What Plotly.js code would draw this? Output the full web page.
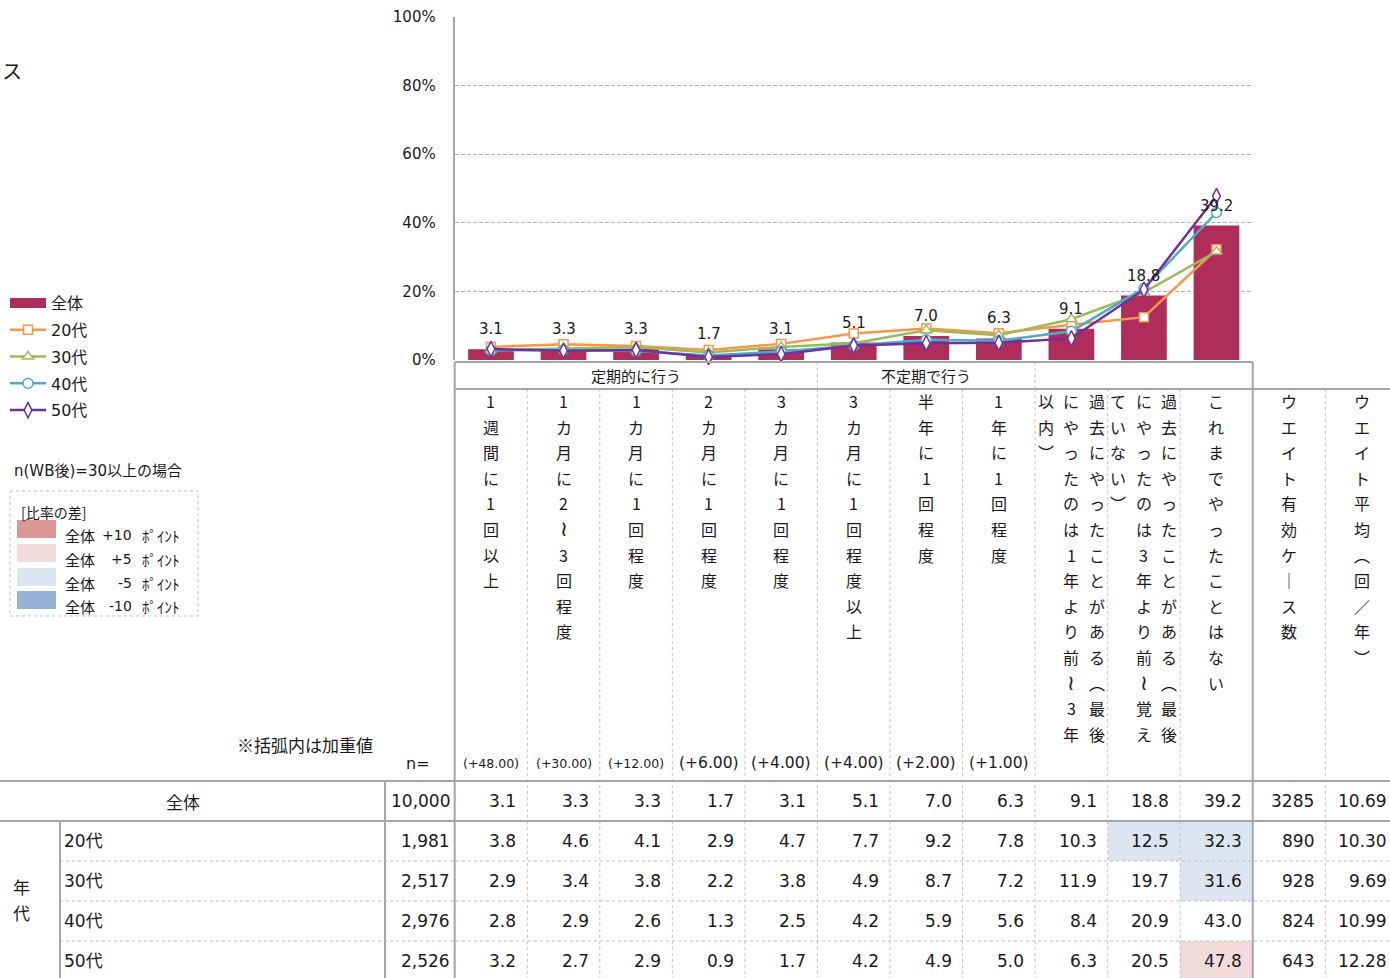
<!DOCTYPE html>
<html><head><meta charset="utf-8">
<script src="https://cdn.plot.ly/plotly-3.0.1.min.js"></script>
<style>html,body{margin:0;padding:0;background:#fff;overflow:hidden}#chart{width:1390px;height:978px}</style>
</head><body><div id="chart"></div>
<script>
// ---------- data ----------
const categories = ['1週間に1回以上','1カ月に2～3回程度','1カ月に1回程度','2カ月に1回程度','3カ月に1回程度','3カ月に1回程度以上','半年に1回程度','1年に1回程度','過去にやったことがある（最後にやったのは1年より前～3年以内）','過去にやったことがある（最後にやったのは3年より前～覚えていない）','これまでやったことはない'];
const extraHeaders = ['ウエイト有効ケース数','ウエイト平均（回／年）'];
const groupLabels = ['定期的に行う','不定期で行う',''];
const groupFirstCol = [0,5,8];
const groupLastCol = [4,7,10];
const weightLabels = ['(+48.00)','(+30.00)','(+12.00)','(+6.00)','(+4.00)','(+4.00)','(+2.00)','(+1.00)'];
const rowLabels = ['全体','20代','30代','40代','50代'];
const rowN = [10000,1981,2517,2976,2526];
const total = [3.1,3.3,3.3,1.7,3.1,5.1,7.0,6.3,9.1,18.8,39.2];
const age20 = [3.8,4.6,4.1,2.9,4.7,7.7,9.2,7.8,10.3,12.5,32.3];
const age30 = [2.9,3.4,3.8,2.2,3.8,4.9,8.7,7.2,11.9,19.7,31.6];
const age40 = [2.8,2.9,2.6,1.3,2.5,4.2,5.9,5.6,8.4,20.9,43.0];
const age50 = [3.2,2.7,2.9,0.9,1.7,4.2,4.9,5.0,6.3,20.5,47.8];
const weightedCases = [3285,890,928,824,643];
const weightedAvg = ['10.69','10.30','9.69','10.99','12.28'];
const yTicks = [0,20,40,60,80,100];
const shadeLabels = ['+10','+5','-5','-10'];
const shadeColors = ['#DA9694','#F2DCDB','#DCE6F1','#95B3D7'];

// ---------- styling / geometry ----------
const W = 1390, H = 978;
const X = p => p / W, Y = p => 1 - p / H;
const colW = 72.55, plotLeft = 454.7;
const plotRight = plotLeft + 11 * colW;
const tableTop = 781, rowH = 40;
const num = 'DejaVu Sans, Noto Sans CJK JP, sans-serif';
const cjk = 'Noto Sans CJK JP, sans-serif';
const ink = '#1a1a1a';
const barColor = '#AE2D5B';

const series = [
  {name:'20代', values:age20, color:'#F79646', symbol:'square', size:9},
  {name:'30代', values:age30, color:'#9BBB59', symbol:'triangle-up', size:10},
  {name:'40代', values:age40, color:'#4BACC6', symbol:'circle', size:10},
  {name:'50代', values:age50, color:'#7030A0', symbol:'diamond-tall', size:11}
];

const traces = [];
traces.push({type:'bar', x:categories, y:total, name:'全体', marker:{color:barColor}, width:0.63,
  showlegend:false, hoverinfo:'skip', legendgroup:'g0'});
traces.push({type:'scatter', mode:'lines', x:[null], y:[null], name:'全体',
  line:{color:barColor, width:10}, legendgroup:'g0', hoverinfo:'skip'});
series.forEach((s, k) => traces.push({type:'scatter', mode:'lines+markers', x:categories, y:s.values, name:s.name,
  legendgroup:'g' + (k + 1), line:{color:s.color, width:2.5},
  marker:{symbol:s.symbol, size:s.size, color:'#ffffff', line:{color:s.color, width:1.5}},
  hoverinfo:'skip', cliponaxis:false}));

// table shading (difference from 全体)
const rows = [total, age20, age30, age40, age50];
const shadeZ = rows.map((r, ri) => r.map((v, i) => {
  if (ri === 0) return null;
  const d = v - total[i];
  return d >= 10 ? 2 : d >= 5 ? 1 : d <= -10 ? -2 : d <= -5 ? -1 : null;
}));
traces.push({type:'heatmap', xaxis:'x2', yaxis:'y2', x:categories.map((c, i) => i), y:rowLabels.map((r, i) => i),
  z:shadeZ, zmin:-2, zmax:2, showscale:false, hoverinfo:'skip',
  colorscale:[[0,shadeColors[3]],[0.25,shadeColors[2]],[0.5,'#ffffff'],[0.75,shadeColors[1]],[1,shadeColors[0]]]});

const ann = [];
const A = o => ann.push(Object.assign({showarrow:false, xanchor:'center', yanchor:'middle', font:{family:num, size:16, color:ink}}, o));

// bar labels
total.forEach((v, i) => A({xref:'x', yref:'y', x:categories[i], y:v, yshift:20, text:v.toFixed(1), font:{family:num, size:15, color:ink}}));

// group header
groupLabels.forEach((g, k) => { if (g) A({xref:'x2', yref:'paper', x:(groupFirstCol[k] + groupLastCol[k]) / 2, y:Y(375), text:g, font:{family:cjk, size:15, color:ink}}); });

// vertical column headers
const vertMap = {'（':'︵','）':'︶','～':'≀','ー':'｜'};
const perCol = 14, charStep = 25.6, subStep = 25.5 / colW, headerTop = 401;
categories.concat(extraHeaders).forEach((label, ci) => {
  const chars = Array.from(label);
  const nSub = Math.ceil(chars.length / perCol);
  chars.forEach((ch, k) => {
    const sub = Math.floor(k / perCol), r = k % perCol;
    const off = ((nSub - 1) / 2 - sub) * subStep;
    const wave = ch === '～';
    A({xref:'x2', yref:'paper', x:ci + off, y:Y(headerTop + r * charStep), text:vertMap[ch] || ch,
       font:{family:wave ? num : cjk, size:wave ? 21 : 16, color:ink}});
  });
});
// weights
weightLabels.forEach((w, i) => A({xref:'x2', yref:'paper', x:i, y:Y(763), text:w,
  font:{family:num, size:w.length > 7 ? 12.5 : 15.5, color:ink}}));
A({xref:'paper', yref:'paper', x:X(418), y:Y(763), text:'n=', font:{family:num, size:16, color:ink}});
A({xref:'paper', yref:'paper', x:X(305), y:Y(744), text:'※括弧内は加重値', font:{family:cjk, size:17, color:ink}});

// table body
const pad = 9 / colW;
rows.forEach((r, ri) => {
  if (ri === 0) A({xref:'paper', yref:'y2', x:X(183), y:ri, text:rowLabels[ri], font:{family:cjk, size:17, color:ink}});
  else A({xref:'paper', yref:'y2', x:X(62), y:ri, xanchor:'left', text:rowLabels[ri], font:{family:num, size:17, color:ink}});
  A({xref:'paper', yref:'y2', x:X(452), y:ri, xanchor:'right', text:rowN[ri].toLocaleString('en-US'), font:{family:num, size:17, color:ink}});
  r.forEach((v, i) => A({xref:'x2', yref:'y2', x:i + 0.5 - pad, y:ri, xanchor:'right', text:v.toFixed(1), font:{family:num, size:17, color:ink}}));
  A({xref:'x2', yref:'y2', x:11.5 - pad, y:ri, xanchor:'right', text:String(weightedCases[ri]), font:{family:num, size:17, color:ink}});
  A({xref:'x2', yref:'y2', x:12.5 - pad, y:ri, xanchor:'right', text:weightedAvg[ri], font:{family:num, size:17, color:ink}});
});
Array.from('年代').forEach((ch, k) => A({xref:'paper', yref:'y2', x:X(21), y:2.45 + (k - 0.5) * 0.65, text:ch, font:{family:cjk, size:17, color:ink}}));

// notes at left
A({xref:'paper', yref:'paper', x:0, y:Y(71), xanchor:'left', text:'ス', font:{family:cjk, size:20, color:ink}});
A({xref:'paper', yref:'paper', x:X(12), y:Y(471), xanchor:'left', text:'n(WB後)=30以上の場合', font:{family:num, size:15, color:ink}});
A({xref:'paper', yref:'paper', x:X(19), y:Y(512), xanchor:'left', text:'[比率の差]', font:{family:cjk, size:14, color:ink}});
const shapes = [];
shapes.push({type:'rect', xref:'paper', yref:'paper', x0:X(10), x1:X(198), y0:Y(491), y1:Y(616), line:{color:'#BFBFBF', width:1, dash:'dot'}});
const swTop = [520, 544, 568, 591];
shadeLabels.forEach((l, k) => {
  shapes.push({type:'rect', xref:'paper', yref:'paper', x0:X(17), x1:X(56), y0:Y(swTop[k]), y1:Y(swTop[k] + 18), fillcolor:shadeColors[k], line:{width:0}});
  const yc = swTop[k] + 15;
  A({xref:'paper', yref:'paper', x:X(63), y:Y(yc), xanchor:'left', text:'全体', font:{family:cjk, size:15, color:ink}});
  A({xref:'paper', yref:'paper', x:X(134), y:Y(yc), xanchor:'right', text:l, font:{family:num, size:14, color:ink}});
  A({xref:'paper', yref:'paper', x:X(140), y:Y(yc), xanchor:'left', text:'ﾎﾟｲﾝﾄ', font:{family:cjk, size:15, color:ink}});
});

// table rules
const solid = {color:'#A6A6A6', width:2};
const dotted = {color:'#C0C0C0', width:1, dash:'dot'};
const hl = (y, x0, x1, s) => shapes.push({type:'line', xref:'paper', yref:'paper', x0:X(x0), x1:X(x1), y0:Y(y), y1:Y(y), line:s});
const vl = (x, y0, y1, s) => shapes.push({type:'line', xref:'paper', yref:'paper', x0:X(x), x1:X(x), y0:Y(y0), y1:Y(y1), line:s});
[5, 8].forEach(k => vl(plotLeft + k * colW, 362, 389, dotted));
for (let k = 1; k <= 12; k++) if (k !== 11) vl(plotLeft + k * colW, 389, 978, dotted);
for (let r = 2; r <= 4; r++) hl(tableTop + r * rowH, 60, 1390, dotted);
vl(plotLeft, 362, 978, solid);
hl(362, plotLeft, plotRight, solid);
vl(plotRight, 362, 978, solid);
hl(389, plotLeft, 1390, solid);
hl(tableTop, 0, 1390, solid);
hl(tableTop + rowH, 0, 1390, solid);
vl(385, tableTop, 978, solid);
vl(60, tableTop + rowH, 978, solid);

const layout = {
  width:W, height:H, margin:{l:0, r:0, t:0, b:0}, paper_bgcolor:'#fff', plot_bgcolor:'rgba(0,0,0,0)',
  font:{family:num, color:ink},
  showlegend:true,
  legend:{x:X(5), y:Y(286), xanchor:'left', yanchor:'top', font:{family:num, size:16, color:ink},
    traceorder:'grouped', tracegroupgap:3, bgcolor:'rgba(0,0,0,0)', itemwidth:36},
  xaxis:{domain:[X(plotLeft), X(plotRight)], range:[-0.5, 10.5], type:'category', showticklabels:false,
    showgrid:false, zeroline:false, showline:false, ticks:'', fixedrange:true},
  yaxis:{domain:[Y(360), Y(17)], range:[0, 100], tickmode:'array', tickvals:yTicks, ticktext:yTicks.map(v => v + '%'), showgrid:true,
    gridcolor:'#B0B0B0', griddash:'4px,2px', gridwidth:1, zeroline:false, showline:true, linecolor:'#A6A6A6',
    linewidth:2, ticks:'', ticklabelstandoff:14, tickfont:{family:num, size:15, color:ink}, fixedrange:true},
  xaxis2:{domain:[X(plotLeft), 1], range:[-0.5, -0.5 + (W - plotLeft) / colW], anchor:'y2', visible:false, fixedrange:true},
  yaxis2:{domain:[0, Y(tableTop)], range:[-0.5 + (H - tableTop) / rowH, -0.5], anchor:'x2', visible:false, fixedrange:true},
  annotations:ann, shapes:shapes, bargap:0.37
};
Plotly.newPlot('chart', traces, layout, {displayModeBar:false, staticPlot:true});
</script></body></html>
